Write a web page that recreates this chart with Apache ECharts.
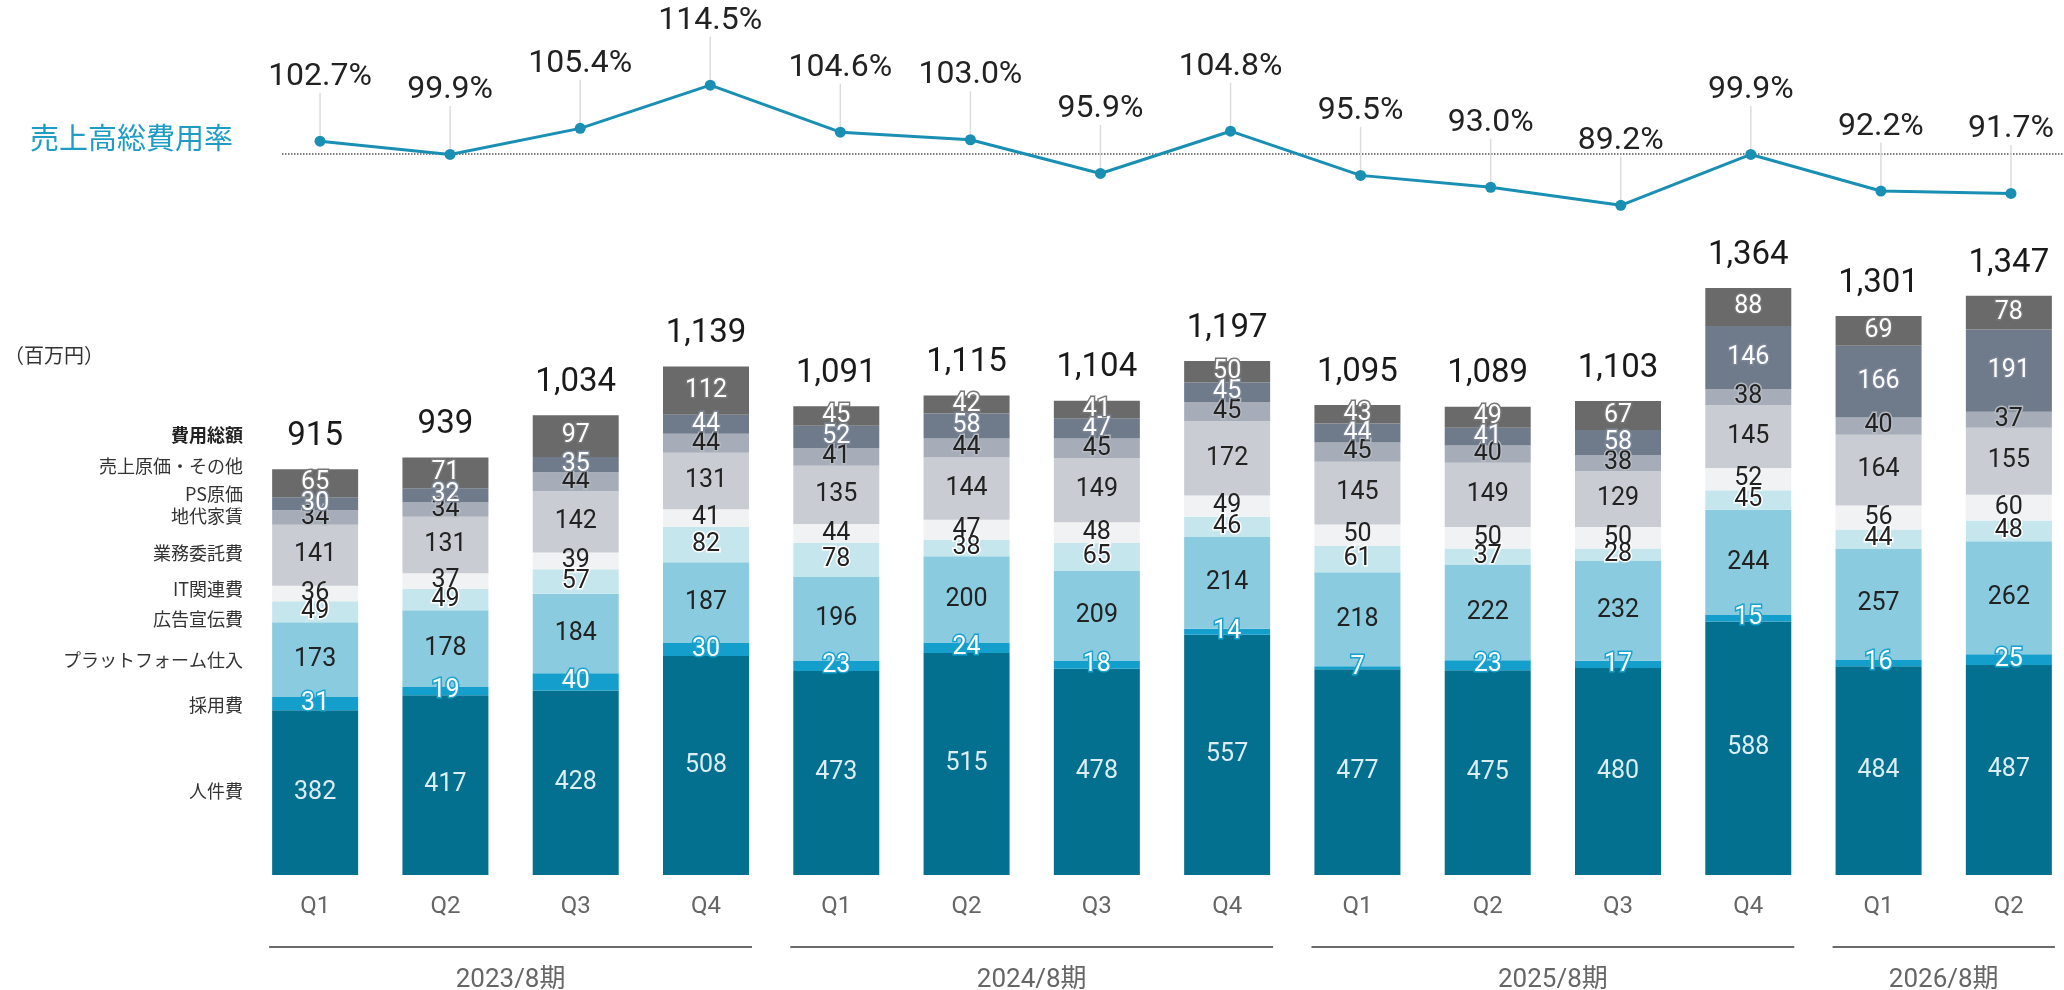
<!DOCTYPE html>
<html>
<head>
<meta charset="utf-8">
<script src="https://cdn.jsdelivr.net/npm/echarts@6.0.0/dist/echarts.min.js"></script>
<style>
html, body { margin: 0; padding: 0; background: #fff; overflow: hidden; }
#main { width: 2100px; height: 990px; }
</style>
</head>
<body>
<div id="main"></div>
<script>
var quarters = ['Q1', 'Q2', 'Q3', 'Q4', 'Q1', 'Q2', 'Q3', 'Q4', 'Q1', 'Q2', 'Q3', 'Q4', 'Q1', 'Q2'];
var yearNames = ['2023/8期', '2024/8期', '2025/8期', '2026/8期'];
var yearSpans = [[0, 3], [4, 7], [8, 11], [12, 13]];

var personnel = [382, 417, 428, 508, 473, 515, 478, 557, 477, 475, 480, 588, 484, 487];
var recruiting = [31, 19, 40, 30, 23, 24, 18, 14, 7, 23, 17, 15, 16, 25];
var platform = [173, 178, 184, 187, 196, 200, 209, 214, 218, 222, 232, 244, 257, 262];
var advertising = [49, 49, 57, 82, 78, 38, 65, 46, 61, 37, 28, 45, 44, 48];
var itCost = [36, 37, 39, 41, 44, 47, 48, 49, 50, 50, 50, 52, 56, 60];
var outsourcing = [141, 131, 142, 131, 135, 144, 149, 172, 145, 149, 129, 145, 164, 155];
var rent = [34, 34, 44, 44, 41, 44, 45, 45, 45, 40, 38, 38, 40, 37];
var psCost = [30, 32, 35, 44, 52, 58, 47, 45, 44, 41, 58, 146, 166, 191];
var otherCost = [65, 71, 97, 112, 45, 42, 41, 50, 43, 49, 67, 88, 69, 78];
var totals = [915, 939, 1034, 1139, 1091, 1115, 1104, 1197, 1095, 1089, 1103, 1364, 1301, 1347];
var costRatio = [102.7, 99.9, 105.4, 114.5, 104.6, 103.0, 95.9, 104.8, 95.5, 93.0, 89.2, 99.9, 92.2, 91.7];

var FONT = 'Roboto, "Noto Sans CJK JP", sans-serif';

// 積み上げの各レイヤー（下から順）
var layers = [
    { name: '人件費', data: personnel, color: '#04708f', text: '#dcedf3', border: null, legendY: 791 },
    { name: '採用費', data: recruiting, color: '#139ecb', text: '#ffffff', border: '#1aa3cf', legendY: 705 },
    { name: 'プラットフォーム仕入', data: platform, color: '#8acbdf', text: '#222222', border: null, legendY: 660 },
    { name: '広告宣伝費', data: advertising, color: '#c6e6ee', text: '#222222', border: '#ffffff', legendY: 619 },
    { name: 'IT関連費', data: itCost, color: '#f1f2f3', text: '#222222', border: null, legendY: 589 },
    { name: '業務委託費', data: outsourcing, color: '#c9ccd3', text: '#222222', border: null, legendY: 553 },
    { name: '地代家賃', data: rent, color: '#a7adb8', text: '#222222', border: '#b4b9c2', legendY: 516 },
    { name: 'PS原価', data: psCost, color: '#6f7a8a', text: '#ffffff', border: '#7c8696', legendY: 494 },
    { name: '売上原価・その他', data: otherCost, color: '#6a6a6a', text: '#ffffff', border: '#777777', legendY: 466 }
];

function fmt(n) {
    return String(n).replace(/\B(?=(\d{3})+(?!\d))/g, ',');
}

var series = [];
layers.forEach(function (l) {
    series.push({
        name: l.name,
        type: 'bar',
        stack: 'cost',
        xAxisIndex: 1,
        yAxisIndex: 1,
        barWidth: 86,
        data: l.data,
        itemStyle: { color: l.color },
        label: {
            show: true,
            position: 'inside',
            fontSize: 25,
            fontFamily: FONT,
            color: l.text,
            textBorderColor: l.border || 'transparent',
            textBorderWidth: l.border ? 3 : 0
        },
        silent: true
    });
});

// 費用総額ラベル（積み上げ最上部に高さ0のバーを置いて表示）
series.push({
    name: '費用総額',
    type: 'bar',
    stack: 'cost',
    xAxisIndex: 1,
    yAxisIndex: 1,
    barWidth: 86,
    data: totals.map(function () { return 0; }),
    itemStyle: { color: 'transparent' },
    label: {
        show: true,
        position: 'top',
        distance: 16,
        fontSize: 33,
        fontFamily: FONT,
        color: '#1a1a1a',
        formatter: function (p) { return fmt(totals[p.dataIndex]); }
    },
    silent: true
});

// 売上高総費用率
series.push({
    name: '売上高総費用率',
    type: 'line',
    xAxisIndex: 0,
    yAxisIndex: 0,
    data: costRatio,
    symbol: 'circle',
    symbolSize: 11,
    lineStyle: { color: '#1a8fb4', width: 3 },
    itemStyle: { color: '#1a8fb4' },
    label: {
        show: true,
        position: 'top',
        distance: 5,
        fontSize: 32,
        fontFamily: FONT,
        color: '#222222',
        formatter: function (p) { return p.value.toFixed(1) + '%'; }
    },
    labelLayout: { dy: -38 },
    labelLine: { show: true, lineStyle: { color: '#dcdcdc', width: 1.5 } },
    markLine: {
        silent: true,
        symbol: 'none',
        label: { show: false },
        lineStyle: { color: '#555', type: 'dotted', width: 1.5 },
        data: [[{ x: 282, yAxis: 100 }, { x: 2064, yAxis: 100 }]]
    },
    silent: true,
    z: 5
});

// 年度区切り線と年度ラベル
series.push({
    type: 'custom',
    xAxisIndex: 1,
    yAxisIndex: 1,
    silent: true,
    data: yearSpans,
    renderItem: function (params, api) {
        var s = api.coord([api.value(0), 0]);
        var e = api.coord([api.value(1), 0]);
        var y = s[1];
        return {
            type: 'group',
            children: [
                {
                    type: 'line',
                    shape: { x1: s[0] - 46, y1: y + 72, x2: e[0] + 46, y2: y + 72 },
                    style: { stroke: '#6b6b6b', lineWidth: 2 }
                },
                {
                    type: 'text',
                    style: {
                        text: yearNames[params.dataIndex],
                        x: (s[0] + e[0]) / 2,
                        y: y + 105,
                        align: 'center',
                        verticalAlign: 'middle',
                        font: '26px ' + FONT,
                        fill: '#666666'
                    }
                }
            ]
        };
    }
});

var graphics = [
    {
        type: 'text', left: 30, top: 123,
        style: { text: '売上高総費用率', font: '29px "Noto Sans CJK JP", sans-serif', fill: '#1e9cc4' }
    },
    {
        type: 'text', left: 4, top: 345,
        style: { text: '（百万円）', font: '20px "Noto Sans CJK JP", sans-serif', fill: '#333' }
    },
    {
        type: 'text',
        style: { text: '費用総額', x: 243, y: 435, align: 'right', verticalAlign: 'middle', font: 'bold 18px "Noto Sans CJK JP", sans-serif', fill: '#222' }
    }
];
layers.forEach(function (l) {
    graphics.push({
        type: 'text',
        style: { text: l.name, x: 243, y: l.legendY, align: 'right', verticalAlign: 'middle', font: '18px "Noto Sans CJK JP", sans-serif', fill: '#333' }
    });
});

var option = {
    backgroundColor: '#ffffff',
    animation: false,
    textStyle: { fontFamily: FONT },
    grid: [
        { left: 255, width: 1821, top: 59, height: 190 },
        { left: 250, width: 1824, top: 185, height: 690 }
    ],
    xAxis: [
        { type: 'category', gridIndex: 0, data: quarters, show: false },
        {
            type: 'category', gridIndex: 1, data: quarters,
            axisLine: { show: false }, axisTick: { show: false },
            axisLabel: { color: '#666', fontSize: 24, margin: 20, fontFamily: FONT }
        }
    ],
    yAxis: [
        { type: 'value', gridIndex: 0, min: 80, max: 120, show: false },
        { type: 'value', gridIndex: 1, min: 0, max: 1600, show: false }
    ],
    graphic: graphics,
    series: series
};

var chart = echarts.init(document.getElementById('main'));
chart.setOption(option);
</script>
</body>
</html>
